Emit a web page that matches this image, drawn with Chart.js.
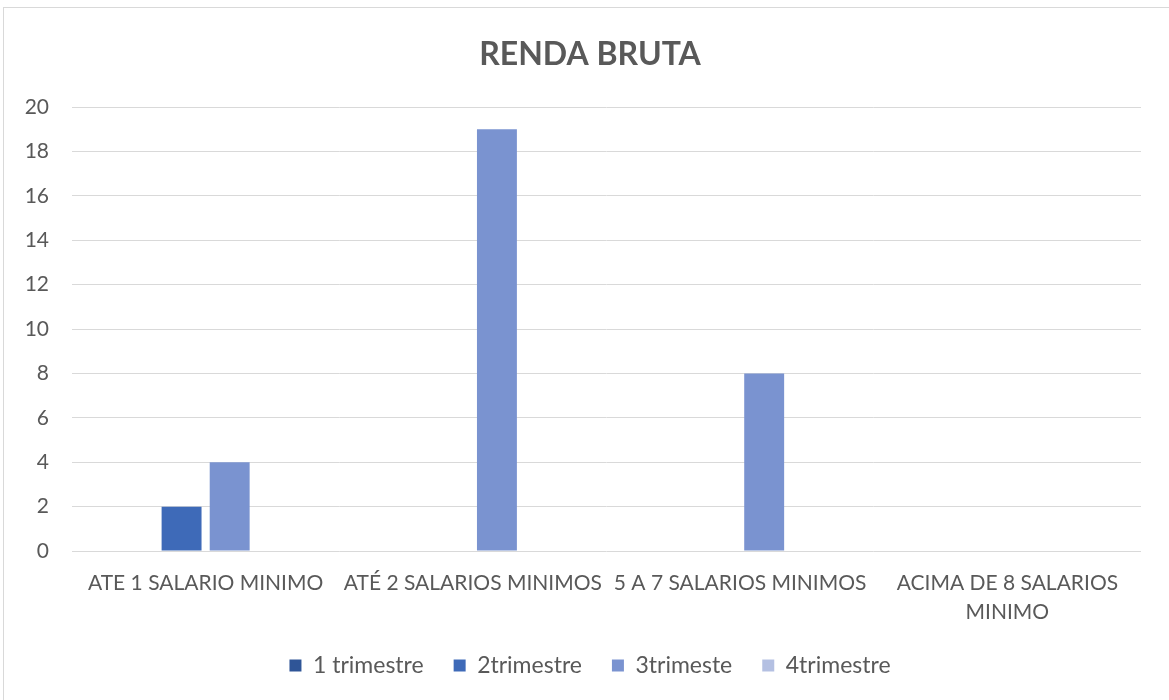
<!DOCTYPE html>
<html>
<head>
<meta charset="utf-8">
<script src="https://cdn.jsdelivr.net/npm/chart.js@4/dist/chart.umd.min.js"></script>
<style>
  html, body { margin: 0; padding: 0; background: #fff; overflow: hidden; }
  #wrap { position: relative; width: 1169px; height: 700px; }
  #frame { position: absolute; left: 3px; top: 7px; width: 1200px; height: 720px; border: 1px solid #d9d9d9; box-sizing: border-box; }
  canvas { position: absolute; left: 0; top: 0; }
</style>
</head>
<body>
<div id="wrap">
  <div id="frame"></div>
  <canvas id="chart" width="1169" height="700"></canvas>
</div>
<script>
// ─── Data ───────────────────────────────────────────────
const categories = [
  'ATE 1 SALARIO MINIMO',
  'ATÉ 2 SALARIOS MINIMOS',
  '5 A 7 SALARIOS MINIMOS',
  ['ACIMA DE 8 SALARIOS', 'MINIMO'],
];
const seriesNames = ['1 trimestre', '2trimestre', '3trimeste', '4trimestre'];
const trimestre1 = [0, 0, 0, 0];
const trimestre2 = [2, 0, 0, 0];
const trimestre3 = [4, 19, 8, 0];
const trimestre4 = [0, 0, 0, 0];
const yTicks = [0, 2, 4, 6, 8, 10, 12, 14, 16, 18, 20];

const COLORS = ['#2f5597', '#3e6ab8', '#7a93d0', '#b4c0e2'];
const FONT = "Lato, 'Open Sans', sans-serif";
const TEXT = '#595959';

const seriesData = [trimestre1, trimestre2, trimestre3, trimestre4];

const datasets = seriesData.map((data, i) => ({
  label: seriesNames[i],
  data,
  backgroundColor: COLORS[i],
  borderWidth: 0,
  categoryPercentage: 0.72,
  barPercentage: 0.83,
}));

// left padding shifts title/legend centre to match the frame
const PAD_LEFT = 39;

// y labels sit inside the left padding; stretch the scale box so they aren't clipped
const unclipYLabels = {
  id: 'unclipYLabels',
  afterLayout(chart) { chart.scales.y.left = 0; },
};

new Chart(document.getElementById('chart'), {
  type: 'bar',
  data: { labels: categories, datasets },
  plugins: [unclipYLabels],
  options: {
    responsive: false,
    animation: false,
    layout: { padding: { left: PAD_LEFT, right: 28, top: 0, bottom: 13 } },
    plugins: {
      title: {
        display: true,
        text: 'RENDA BRUTA',
        color: TEXT,
        font: { size: 32, weight: 'bold', family: FONT },
        padding: { top: 35, bottom: 33.6 },
      },
      legend: {
        position: 'bottom',
        labels: {
          color: TEXT,
          font: { size: 23, family: FONT },
          boxWidth: 12,
          boxHeight: 12,
          padding: 30,
        },
      },
      tooltip: { enabled: false },
    },
    scales: {
      x: {
        grid: { display: false },
        border: { display: false },
        afterFit: (scale) => { scale.height -= 13; },
        ticks: {
          color: TEXT,
          font: { size: 21, family: FONT, lineHeight: 1.38 },
          maxRotation: 0,
          autoSkip: false,
          padding: 10,
        },
      },
      y: {
        min: 0,
        max: 20,
        afterBuildTicks: (scale) => { scale.ticks = yTicks.map(v => ({ value: v })); },
        afterFit: (scale) => { scale.width = 72 - PAD_LEFT; },
        grid: { color: '#d9d9d9', lineWidth: 1, drawTicks: false },
        border: { display: false },
        ticks: {
          color: TEXT,
          font: { size: 21, family: FONT },
          padding: 23,
        },
      },
    },
  },
});
</script>
</body>
</html>
